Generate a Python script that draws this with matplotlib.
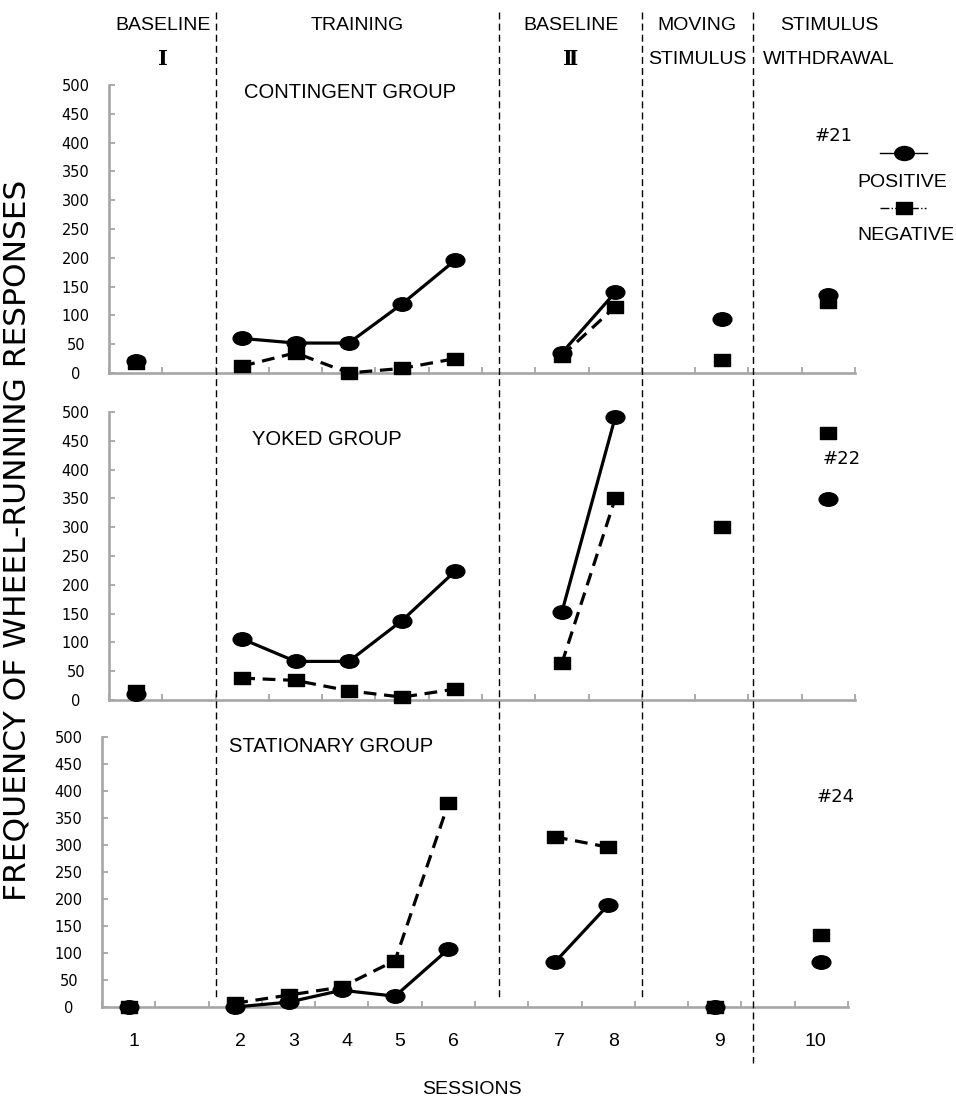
import numpy as np
import matplotlib
matplotlib.use("Agg")
import matplotlib.pyplot as plt
from matplotlib.path import Path
from matplotlib.lines import Line2D
from matplotlib import transforms

nan = np.nan

# 14 category slots on the x axis (empty slots are gaps between phases)
slots = ['1', '', '2', '3', '4', '5', '6', '', '7', '8', '', '9', '', '10']

# Contingent group (#21)
cont_pos = [20, nan, 60, 52, 52, 120, 196, nan, 35, 140, nan, 93, nan, 135]
cont_neg = [17, nan, 12, 35, 0, 8, 25, nan, 30, 115, nan, 22, nan, 123]
# Yoked group (#22)
yoked_pos = [10, nan, 106, 67, 67, 138, 224, nan, 153, 491, nan, nan, nan, 349]
yoked_neg = [16, nan, 38, 34, 16, 5, 19, nan, 64, 350, nan, 300, nan, 463]
# Stationary group (#24)
stat_pos = [0, nan, 0, 9, 31, 20, 107, nan, 83, 189, nan, 0, nan, 83]
stat_neg = [0, nan, 7, 22, 37, 86, 377, nan, 315, 296, nan, 0, nan, 133]

yticks = list(range(0, 501, 50))
phase_titles = [("BASELINE", "I"), ("TRAINING", ""), ("BASELINE", "Ⅱ"),
                ("MOVING", "STIMULUS"), ("STIMULUS", "WITHDRAWAL")]
group_titles = ["CONTINGENT GROUP", "YOKED GROUP", "STATIONARY GROUP"]
subject_ids = ["#21", "#22", "#24"]

W, H = 956, 1100
fig = plt.figure(figsize=(W / 100, H / 100), dpi=100)

def fx(px):
    return px / W

def fy(py):
    return 1 - py / H

GRAY = '#a6a6a6'
SANS = ['Liberation Sans', 'DejaVu Sans']

# ellipse and rectangle markers (Excel-like)
circ = Path.unit_circle()
ell_marker = Path(circ.vertices * np.array([1.0, 0.72]), circ.codes)
sq_marker = Path([(-1, -0.72), (1, -0.72), (1, 0.72), (-1, 0.72), (-1, -0.72)],
                 [Path.MOVETO, Path.LINETO, Path.LINETO, Path.LINETO, Path.CLOSEPOLY])

panels = [
    (109, 85, 373, cont_pos, cont_neg),
    (109, 412, 700, yoked_pos, yoked_neg),
    (102, 737, 1007, stat_pos, stat_neg),
]
axes = []
x = np.arange(len(slots)) + 0.5
for (left, top, bottom, pos, neg) in panels:
    width = 746
    ax = fig.add_axes([fx(left), fy(bottom), width / W, (bottom - top) / H])
    ax.set_xlim(0, len(slots))
    ax.set_ylim(0, 500)
    for s in ['top', 'right']:
        ax.spines[s].set_visible(False)
    for s in ['left', 'bottom']:
        ax.spines[s].set_color(GRAY)
        ax.spines[s].set_linewidth(1.9)
    ax.set_yticks(yticks)
    ax.set_yticklabels([str(v) for v in yticks], fontsize=10.5, family='DejaVu Sans')
    for lab in ax.get_yticklabels():
        lab.set_horizontalalignment('center')
    ax.tick_params(axis='y', direction='in', length=4, width=1.3, color=GRAY, pad=24)
    ax.set_xticks(np.arange(len(slots) + 1))
    ax.set_xticklabels([])
    ax.tick_params(axis='x', direction='in', length=4, width=1.3, color=GRAY)
    ax.patch.set_alpha(0)
    ax.plot(x, neg, color='black', lw=2.3, dashes=(4.0, 2.4),
            marker=sq_marker, markersize=12, clip_on=False, zorder=3)
    ax.plot(x, pos, color='black', lw=2.3, linestyle='-',
            marker=ell_marker, markersize=13.5, clip_on=False, zorder=4)
    axes.append(ax)

ax_top = axes[0]
blend = transforms.blended_transform_factory(ax_top.transData, fig.transFigure)

# phase boundaries (dashed vertical lines)
phase_bounds = [2.0, 7.32, 10.0, 12.08]
phase_ends = [998, 998, 998, 1063]
for b, e in zip(phase_bounds, phase_ends):
    fig.add_artist(Line2D([b, b], [fy(12), fy(e)], transform=blend, color='black',
                          lw=1.0, dashes=(5, 3)))

# phase headings
head_x = [163, 357, 571, 697, 829]
for (t1, t2), hx in zip(phase_titles, head_x):
    fig.text(fx(hx), fy(26), t1, ha='center', va='center', fontsize=14, family=SANS)
    if t2 in ("I", "Ⅱ"):
        fig.text(fx(hx), fy(59), t2, ha='center', va='center', fontsize=15,
                 family=['DejaVu Serif', 'Liberation Serif'], fontweight='bold')
    elif t2:
        fig.text(fx(hx), fy(59), t2, ha='center', va='center', fontsize=14, family=SANS)

# group titles
for t, (gx, gy) in zip(group_titles, [(350, 92), (327, 439), (331, 747)]):
    fig.text(fx(gx), fy(gy), t, ha='center', va='center', fontsize=14.5, family=SANS)

# subject ids
for t, (sx, sy) in zip(subject_ids, [(834, 136), (842, 459), (836, 797)]):
    fig.text(fx(sx), fy(sy), t, ha='center', va='center', fontsize=13, family='DejaVu Sans')

# legend
fig.add_artist(Line2D([fx(880), fx(927)], [fy(153), fy(153)], color='black', lw=1.0))
fig.add_artist(Line2D([fx(904)], [fy(153)], marker=ell_marker, markersize=14,
                      color='black', lw=0))
fig.text(fx(902), fy(182), "POSITIVE", ha='center', va='center', fontsize=14, family=SANS)
fig.add_artist(Line2D([fx(880), fx(926)], [fy(208), fy(208)], color='black', lw=1.0,
                      linestyle='-.'))
fig.add_artist(Line2D([fx(904)], [fy(208)], marker=sq_marker, markersize=12,
                      color='black', lw=0))
fig.text(fx(906), fy(235), "NEGATIVE", ha='center', va='center', fontsize=14, family=SANS)

# session labels
for i, s in enumerate(slots):
    if s:
        fig.text(0, 0, s, transform=blend, ha='center', va='center', fontsize=14,
                 family=SANS).set_position((x[i] - (0.25 if s == '10' else 0.04), fy(1042)))

fig.text(fx(472), fy(1090), "SESSIONS", ha='center', va='center', fontsize=14, family=SANS)
fig.text(fx(17), fy(540), "FREQUENCY OF WHEEL-RUNNING RESPONSES", rotation=90,
         ha='center', va='center', fontsize=22.5, family='DejaVu Sans')

fig.savefig("out.png", dpi=100, facecolor='white')
